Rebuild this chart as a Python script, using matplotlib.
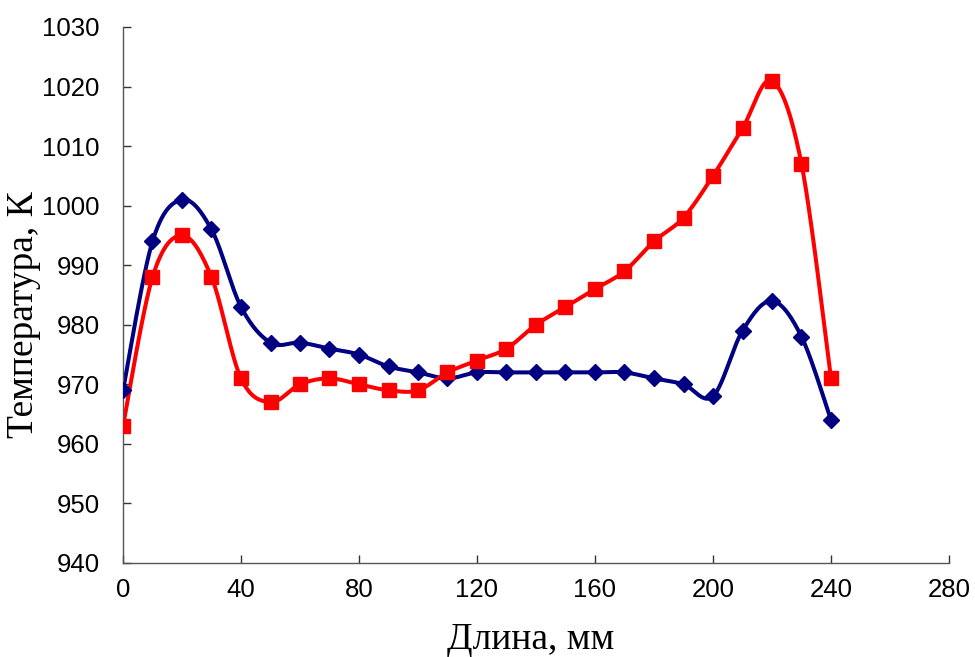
import numpy as np
import matplotlib
matplotlib.use("Agg")
import matplotlib.pyplot as plt

# ---------------------------------------------------------------- data
length_mm = [0, 10, 20, 30, 40, 50, 60, 70, 80, 90, 100, 110, 120,
             130, 140, 150, 160, 170, 180, 190, 200, 210, 220, 230, 240]
temp_blue = [969, 994, 1001, 996, 983, 977, 977, 976, 975, 973, 972, 971, 972,
             972, 972, 972, 972, 972, 971, 970, 968, 979, 984, 978, 964]
temp_red = [963, 988, 995, 988, 971, 967, 970, 971, 970, 969, 969, 972, 974,
            976, 980, 983, 986, 989, 994, 998, 1005, 1013, 1021, 1007, 971]

x_ticks = [0, 40, 80, 120, 160, 200, 240, 280]
y_ticks = [940, 950, 960, 970, 980, 990, 1000, 1010, 1020, 1030]


def smooth(x, y, n=30):
    # Excel-style smoothing: Catmull-Rom segments through every point
    x = np.asarray(x, float)
    y = np.asarray(y, float)
    px = np.concatenate([[x[0]], x, [x[-1]]])
    py = np.concatenate([[y[0]], y, [y[-1]]])
    xs, ys = [], []
    t = np.linspace(0, 1, n)
    for i in range(1, len(px) - 2):
        p0, p1, p2, p3 = (np.array([px[j], py[j]]) for j in range(i - 1, i + 3))
        c1 = p1 + (p2 - p0) / 6
        c2 = p2 - (p3 - p1) / 6
        pts = ((1 - t) ** 3)[:, None] * p1 + (3 * (1 - t) ** 2 * t)[:, None] * c1 \
            + (3 * (1 - t) * t ** 2)[:, None] * c2 + (t ** 3)[:, None] * p2
        xs.extend(pts[:, 0])
        ys.extend(pts[:, 1])
    return xs, ys


fig = plt.figure(figsize=(9.75, 6.57), dpi=100)
ax = fig.add_axes([123 / 975, 1 - 563 / 657, (949 - 123) / 975, (563 - 27) / 657])

for y, color, marker, ms in [(temp_blue, "#000080", "D", 8.5),
                             (temp_red, "#FF0000", "s", 10)]:
    sx, sy = smooth(length_mm, y)
    ax.plot(sx, sy, color=color, lw=2.9, zorder=2)
    ax.plot(length_mm, y, ls="none", marker=marker, ms=ms, color=color, zorder=3)

ax.set_xlim(0, 280)
ax.set_ylim(940, 1030)
ax.set_xticks(x_ticks)
ax.set_yticks(y_ticks)
for s in ["top", "right"]:
    ax.spines[s].set_visible(False)
for s in ["left", "bottom"]:
    ax.spines[s].set_color("#555555")
    ax.spines[s].set_linewidth(1.0)
ax.tick_params(direction="in", length=6, width=1, color="#333333", labelsize=18.5)
ax.tick_params(axis="y", pad=17)
ax.tick_params(axis="x", pad=11)
for lbl in ax.get_xticklabels() + ax.get_yticklabels():
    lbl.set_family("Liberation Sans")

ax.set_xlabel("Длина, мм", family="Liberation Serif", fontsize=27)
ax.set_ylabel("Температура, К", family="Liberation Serif", fontsize=27)
ax.xaxis.set_label_coords(0.493, (563 - 640) / (563 - 27), transform=ax.transAxes)
ax.xaxis.label.set_va("center")
ax.yaxis.set_label_coords((24 - 123) / (949 - 123), (563 - 315) / (563 - 27),
                          transform=ax.transAxes)
ax.yaxis.label.set_va("center")

fig.savefig("out.png", dpi=100)
